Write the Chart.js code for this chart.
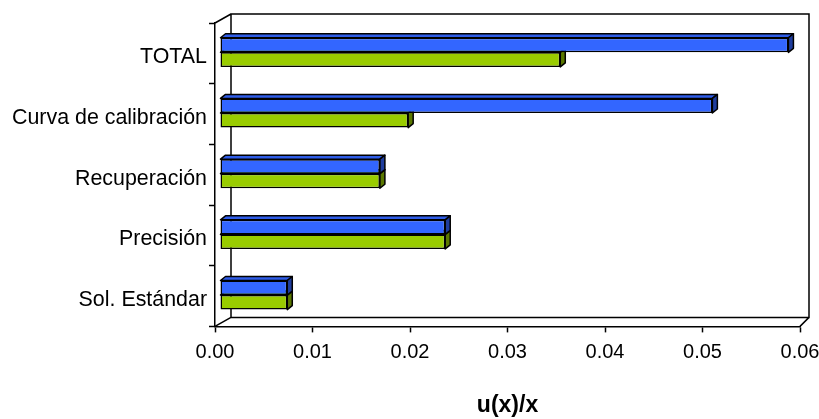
<!DOCTYPE html>
<html>
<head>
<meta charset="utf-8">
<script src="https://cdn.jsdelivr.net/npm/chart.js@4/dist/chart.umd.min.js"></script>
<style>
  html, body { margin: 0; padding: 0; background: #ffffff; }
  #wrap { width: 819px; height: 419px; }
</style>
</head>
<body>
<div id="wrap"><canvas id="c" width="819" height="419"></canvas></div>
<script>
// Uncertainty components, relative standard uncertainty u(x)/x
const categories = ['TOTAL', 'Curva de calibración', 'Recuperación', 'Precisión', 'Sol. Estándar'];
const seriesBlue  = [0.0583, 0.0505, 0.0164, 0.0231, 0.0069];
const seriesGreen = [0.0349, 0.0193, 0.0164, 0.0231, 0.0069];
const xTickValues = [0, 0.01, 0.02, 0.03, 0.04, 0.05, 0.06];
const xTitle = 'u(x)/x';

// 3D look: back wall offsets, bar front offset, bar depth
const WALL = { dxLeft: 16, dxRight: 9, dy: -9 };
const BAR_SHIFT = { dx: 5, dy: -1 };
const BAR_DEPTH = { dx: 5, dy: -4 };
const FACE_COLORS = [
  { top: '#2f5de8', side: '#1f3d9e' },
  { top: '#8bb900', side: '#5a7800' }
];

const depthPlugin = {
  id: 'depth3d',
  beforeDatasetsDraw(chart) {
    const { ctx, chartArea: a } = chart;
    const wl = a.left + WALL.dxLeft, wr = a.right + WALL.dxRight;
    const wt = a.top + WALL.dy, wb = a.bottom + WALL.dy;
    ctx.save();
    ctx.strokeStyle = '#000';
    ctx.lineWidth = 1.5;
    ctx.beginPath();
    // back wall
    ctx.moveTo(wl, wb);
    ctx.lineTo(wl, wt);
    ctx.lineTo(wr, wt);
    ctx.lineTo(wr, wb);
    ctx.lineTo(wl, wb);
    // depth edges
    ctx.moveTo(a.left, a.top);
    ctx.lineTo(wl, wt);
    ctx.moveTo(a.left, a.bottom);
    ctx.lineTo(wl, wb);
    ctx.moveTo(a.right, a.bottom);
    ctx.lineTo(wr, wb);
    ctx.stroke();
    ctx.restore();

    ctx.save();
    ctx.translate(BAR_SHIFT.dx, BAR_SHIFT.dy);
    ctx.lineWidth = 1.5;
    ctx.strokeStyle = '#000';
    ctx.lineJoin = 'round';
    for (let di = chart.data.datasets.length - 1; di >= 0; di--) {
      const meta = chart.getDatasetMeta(di);
      meta.data.forEach(el => {
        const p = el.getProps(['x', 'y', 'base', 'height'], true);
        const l = Math.min(p.x, p.base), r = Math.max(p.x, p.base);
        const t = p.y - p.height / 2, b = p.y + p.height / 2;
        const c = FACE_COLORS[di];
        // top face
        ctx.beginPath();
        ctx.moveTo(l, t);
        ctx.lineTo(l + BAR_DEPTH.dx, t + BAR_DEPTH.dy);
        ctx.lineTo(r + BAR_DEPTH.dx, t + BAR_DEPTH.dy);
        ctx.lineTo(r, t);
        ctx.closePath();
        ctx.fillStyle = c.top;
        ctx.fill();
        ctx.stroke();
        // side face
        ctx.beginPath();
        ctx.moveTo(r, t);
        ctx.lineTo(r + BAR_DEPTH.dx, t + BAR_DEPTH.dy);
        ctx.lineTo(r + BAR_DEPTH.dx, b + BAR_DEPTH.dy);
        ctx.lineTo(r, b);
        ctx.closePath();
        ctx.fillStyle = c.side;
        ctx.fill();
        ctx.stroke();
      });
    }
  },
  afterDatasetsDraw(chart) {
    chart.ctx.restore();
  }
};

new Chart(document.getElementById('c'), {
  type: 'bar',
  data: {
    labels: categories,
    datasets: [
      { data: seriesBlue, backgroundColor: '#3366ff' },
      { data: seriesGreen, backgroundColor: '#99cc00' }
    ]
  },
  options: {
    indexAxis: 'y',
    responsive: false,
    animation: false,
    events: [],
    datasets: {
      bar: {
        borderColor: '#000',
        borderWidth: 1.5,
        borderSkipped: false,
        barPercentage: 1,
        categoryPercentage: 0.48
      }
    },
    layout: { padding: { top: 23, right: 19, bottom: 0, left: 0 } },
    plugins: { legend: { display: false }, tooltip: { enabled: false } },
    scales: {
      x: {
        type: 'linear',
        min: 0,
        max: 0.06,
        afterBuildTicks(scale) { scale.ticks = xTickValues.map(v => ({ value: v })); },
        afterFit(scale) { scale.paddingRight = 19; scale.paddingLeft = 0; },
        ticks: {
          callback: v => v.toFixed(2),
          color: '#000',
          font: { family: 'Liberation Sans, Arial, sans-serif', size: 20 },
          padding: 8,
          maxRotation: 0
        },
        grid: { drawOnChartArea: false, tickLength: 6, color: '#000', tickWidth: 1.5 },
        border: { color: '#000', width: 1.5 },
        title: {
          display: true,
          text: xTitle,
          color: '#000',
          font: { family: 'Liberation Sans, Arial, sans-serif', size: 23, weight: 'bold' },
          padding: { top: 19, bottom: 0 }
        }
      },
      y: {
        type: 'category',
        afterFit(scale) { scale.width = 215; },
        ticks: {
          color: '#000',
          font: { family: 'Liberation Sans, Arial, sans-serif', size: 21.4 },
          padding: 2,
          labelOffset: 4
        },
        grid: { drawOnChartArea: false, tickLength: 6, color: '#000', tickWidth: 1.5, offset: true },
        border: { color: '#000', width: 1.5 }
      }
    }
  },
  plugins: [depthPlugin]
});
</script>
</body>
</html>
